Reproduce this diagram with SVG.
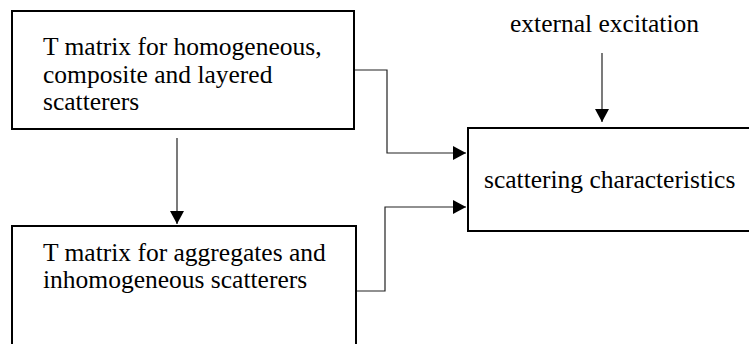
<svg xmlns="http://www.w3.org/2000/svg" width="749" height="344" viewBox="0 0 749 344">
<defs>
<style>
.box{fill:#fff;stroke:#000;stroke-width:2}
.t{font-family:'Liberation Serif','Tinos','DejaVu Serif',serif;font-size:25.5px;fill:#000}
.c{fill:none;stroke:#222;stroke-width:1.2}
</style>
<marker id="ah" viewBox="0 0 13 14" refX="13" refY="7" markerWidth="13" markerHeight="14" markerUnits="userSpaceOnUse" orient="auto">
<path d="M0,0 L13,7 L0,14 Z" fill="#000"/>
</marker>
</defs>
<rect width="749" height="344" fill="#fff"/>
<g id="connectors">
<polyline class="c" points="355,70 387,70 387,153 466,153" marker-end="url(#ah)"/>
<polyline class="c" points="357,291 385,291 385,207 466,207" marker-end="url(#ah)"/>
<line class="c" x1="177" y1="138" x2="177" y2="224" marker-end="url(#ah)"/>
<line class="c" x1="602" y1="53" x2="602" y2="122" marker-end="url(#ah)"/>
</g>
<g id="node-homogeneous">
<rect class="box" x="12" y="11" width="342" height="118"/>
<text class="t" font-family="Liberation Serif, serif" x="43" y="55">T matrix for homogeneous,</text>
<text class="t" x="43" y="82.5">composite and layered</text>
<text class="t" x="43" y="110">scatterers</text>
</g>
<g id="node-aggregates">
<rect class="box" x="12" y="226" width="344" height="130"/>
<text class="t" x="43" y="261">T matrix for aggregates and</text>
<text class="t" x="43" y="288">inhomogeneous scatterers</text>
</g>
<g id="node-scattering">
<rect class="box" x="468" y="128" width="300" height="103"/>
<text class="t" x="484" y="187.5">scattering characteristics</text>
</g>
<g id="node-external">
<text class="t" x="510" y="32">external excitation</text>
</g>
</svg>
